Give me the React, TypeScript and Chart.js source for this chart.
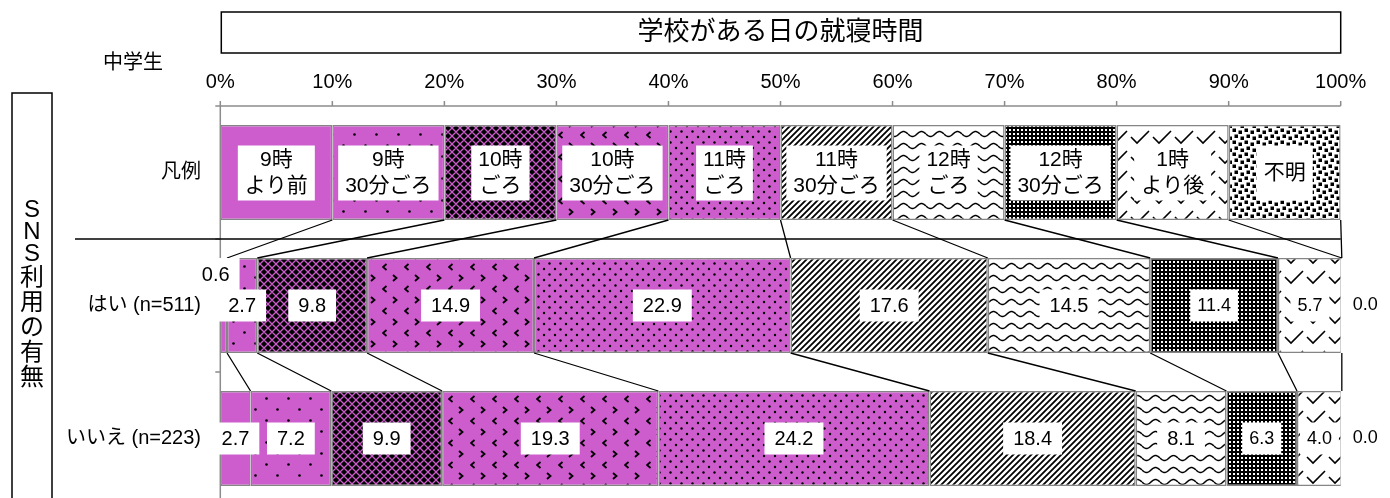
import React, { useEffect, useRef } from 'react';
import { Chart, registerables } from 'chart.js';

Chart.register(...registerables);

// ---- data ----
const rowLabels = ['凡例', 'はい (n=511)', 'いいえ (n=223)'];
const categories = [
  '9時\nより前',
  '9時\n30分ごろ',
  '10時\nごろ',
  '10時\n30分ごろ',
  '11時\nごろ',
  '11時\n30分ごろ',
  '12時\nごろ',
  '12時\n30分ごろ',
  '1時\nより後',
  '不明',
];
const legendValues = [10, 10, 10, 10, 10, 10, 10, 10, 10, 10];
const yesValues = [0.6, 2.7, 9.8, 14.9, 22.9, 17.6, 14.5, 11.4, 5.7, 0.0];
const noValues = [2.7, 7.2, 9.9, 19.3, 24.2, 18.4, 8.1, 6.3, 4.0, 0.0];
const xTicks = [0, 10, 20, 30, 40, 50, 60, 70, 80, 90, 100];
const titleText = '学校がある日の就寝時間';
const groupText = '中学生';
const axisTitleChars = ['S', 'N', 'S', '利', '用', 'の', '有', '無'];

// ---- style ----
const PINK = '#CD5CCD';
const FONT = '"Liberation Sans", "Noto Sans CJK JP", sans-serif';
const CW = 1374;
const CH = 520;

function makePatterns(ctx: CanvasRenderingContext2D): (string | CanvasPattern)[] {
  const mk = (w: number, h: number, bg: string, draw: (g: CanvasRenderingContext2D) => void) => {
    const c = document.createElement('canvas');
    c.width = w;
    c.height = h;
    const g = c.getContext('2d')!;
    g.fillStyle = bg;
    g.fillRect(0, 0, w, h);
    draw(g);
    return ctx.createPattern(c, 'repeat')!;
  };
  const dot = (g: CanvasRenderingContext2D, x: number, y: number, r: number) => {
    g.beginPath();
    g.arc(x, y, r, 0, Math.PI * 2);
    g.fill();
  };
  return [
    PINK,
    mk(22, 22, PINK, (g) => {
      g.fillStyle = '#000';
      dot(g, 5.5, 5.5, 1.3);
      dot(g, 16.5, 16.5, 1.3);
    }),
    mk(8, 8, '#000', (g) => {
      g.strokeStyle = PINK;
      g.lineWidth = 1.3;
      g.beginPath();
      g.moveTo(0, 4);
      g.lineTo(4, 0);
      g.lineTo(8, 4);
      g.lineTo(4, 8);
      g.closePath();
      g.stroke();
    }),
    mk(22, 22, PINK, (g) => {
      g.strokeStyle = '#000';
      g.lineWidth = 1.8;
      g.beginPath();
      g.moveTo(11, 3);
      g.lineTo(14.5, 6);
      g.lineTo(11, 9);
      g.moveTo(4.5, 14);
      g.lineTo(1, 17);
      g.lineTo(4.5, 20);
      g.stroke();
    }),
    mk(11, 11, PINK, (g) => {
      g.fillStyle = '#000';
      dot(g, 2.5, 2.5, 1.2);
      dot(g, 8, 8, 1.2);
    }),
    mk(6, 6, '#fff', (g) => {
      g.strokeStyle = '#000';
      g.lineWidth = 1.8;
      g.beginPath();
      g.moveTo(-1, 7);
      g.lineTo(7, -1);
      g.moveTo(-1, 1);
      g.lineTo(1, -1);
      g.moveTo(5, 7);
      g.lineTo(7, 5);
      g.stroke();
    }),
    mk(18, 12, '#fff', (g) => {
      g.strokeStyle = '#000';
      g.lineWidth = 1.5;
      g.beginPath();
      for (let x = 0; x <= 18; x += 0.5) {
        const y = 6 + 2.5 * Math.sin((x / 18) * 2 * Math.PI);
        if (x === 0) g.moveTo(x, y);
        else g.lineTo(x, y);
      }
      g.stroke();
    }),
    mk(4, 4, '#000', (g) => {
      g.fillStyle = '#fff';
      g.fillRect(1, 1, 2, 2);
    }),
    mk(22, 20, '#fff', (g) => {
      g.strokeStyle = '#000';
      g.lineWidth = 1.6;
      g.beginPath();
      g.moveTo(1, 9);
      g.lineTo(7, 15);
      g.lineTo(19, 3);
      g.stroke();
    }),
    mk(12, 12, '#fff', (g) => {
      g.fillStyle = '#000';
      [[0.5, 0.5], [6.5, 2.5], [2.5, 6.5], [8.5, 8.5]].forEach(([x, y]) => g.fillRect(x, y, 3.5, 3.5));
    }),
  ];
}

function text(ctx: CanvasRenderingContext2D, s: string, x: number, y: number, size: number, align: CanvasTextAlign = 'center') {
  ctx.font = `${size}px ${FONT}`;
  ctx.textAlign = align;
  ctx.textBaseline = 'middle';
  ctx.fillStyle = '#000';
  ctx.fillText(s, x, y);
}

const overlay = {
  id: 'overlay',
  beforeDatasetsDraw(chart: any) {
    const { ctx, chartArea, scales } = chart;
    const x = scales.x;
    const meta0 = chart.getDatasetMeta(0);
    ctx.save();
    ctx.strokeStyle = '#8c8c8c';
    ctx.lineWidth = 1.5;
    // top axis
    ctx.beginPath();
    ctx.moveTo(chartArea.left - 5, chartArea.top);
    ctx.lineTo(chartArea.right, chartArea.top);
    xTicks.forEach((v) => {
      const px = x.getPixelForValue(v);
      ctx.moveTo(px, chartArea.top);
      ctx.lineTo(px, chartArea.top - 5);
    });
    // left axis
    ctx.moveTo(chartArea.left, chartArea.top);
    ctx.lineTo(chartArea.left, chartArea.bottom);
    for (let r = 0; r < rowLabels.length - 1; r++) {
      const yb = (meta0.data[r].y + meta0.data[r + 1].y) / 2;
      ctx.moveTo(chartArea.left - 5, yb);
      ctx.lineTo(chartArea.left, yb);
    }
    ctx.stroke();
    ctx.restore();
  },
  afterDatasetsDraw(chart: any) {
    const { ctx, chartArea, scales } = chart;
    const x = scales.x;
    const metas = chart.data.datasets.map((_: any, i: number) => chart.getDatasetMeta(i));
    ctx.save();
    // connectors
    ctx.strokeStyle = '#000';
    ctx.lineWidth = 1.3;
    ctx.beginPath();
    for (let r = 0; r < rowLabels.length - 1; r++) {
      for (let k = 0; k < metas.length; k++) {
        const a = metas[k].data[r];
        const b = metas[k].data[r + 1];
        ctx.moveTo(a.x, a.y + a.height / 2);
        ctx.lineTo(b.x, b.y - b.height / 2);
      }
    }
    ctx.stroke();
    // separator
    const ySep = (metas[0].data[0].y + metas[0].data[1].y) / 2;
    ctx.lineWidth = 1.5;
    ctx.beginPath();
    ctx.moveTo(67, ySep);
    ctx.lineTo(chartArea.right, ySep);
    ctx.stroke();

    // legend row labels
    metas.forEach((m: any, k: number) => {
      const el = m.data[0];
      const cx = (el.x + el.base) / 2;
      const lines = categories[k].split('\n');
      ctx.font = `21px ${FONT}`;
      const w = Math.max(...lines.map((l) => ctx.measureText(l).width)) + 14;
      ctx.fillStyle = '#fff';
      ctx.fillRect(cx - w / 2, el.y - 27, w, 55);
      if (lines.length === 1) text(ctx, lines[0], cx, el.y + 1, 21);
      else {
        text(ctx, lines[0], cx, el.y - 12, 21);
        text(ctx, lines[1], cx, el.y + 14, 21);
      }
    });

    // value labels
    for (let r = 1; r < rowLabels.length; r++) {
      metas.forEach((m: any, k: number) => {
        const el = m.data[r];
        const v = chart.data.datasets[k].data[r] as number;
        const size = k >= 7 ? 18 : 20;
        const s = v.toFixed(1);
        if (v === 0) {
          text(ctx, s, el.x + 11, el.y, size, 'left');
          return;
        }
        let cx = (el.x + el.base) / 2;
        let cy = el.y;
        if (v < 1) {
          cx -= 8;
          cy -= 31.5;
        }
        ctx.font = `${size}px ${FONT}`;
        const w = ctx.measureText(s).width + (size === 20 ? 20 : 14);
        ctx.fillStyle = '#fff';
        ctx.fillRect(cx - w / 2, cy - 16, w, 32);
        text(ctx, s, cx, cy + 1, size);
      });
    }

    // row labels
    metas[0].data.forEach((el: any, r: number) => {
      text(ctx, rowLabels[r], 193, el.y, 20, 'right');
    });

    // x tick labels
    xTicks.forEach((v) => text(ctx, `${v}%`, x.getPixelForValue(v), 74, 20));

    // title box
    ctx.strokeStyle = '#000';
    ctx.lineWidth = 1.5;
    ctx.strokeRect(chartArea.left + 1, 4, chartArea.right - chartArea.left - 1, 41);
    text(ctx, titleText, (chartArea.left + chartArea.right) / 2, 25, 26);
    text(ctx, groupText, 125, 55, 20);

    // vertical axis title box
    ctx.strokeRect(4, 85, 40, 600);
    let yy = 191.5;
    axisTitleChars.forEach((c) => {
      const h = /[A-Za-z]/.test(c) ? 22 : 25;
      text(ctx, c, 24, yy + h / 2, 24);
      yy += h;
    });
    ctx.restore();
  },
};

export default function App() {
  const ref = useRef<HTMLCanvasElement>(null);
  useEffect(() => {
    const canvas = ref.current!;
    const ctx = canvas.getContext('2d')!;
    const patterns = makePatterns(ctx);
    const chart = new Chart(canvas, {
      type: 'bar',
      data: {
        labels: rowLabels,
        datasets: categories.map((c, i) => ({
          label: c,
          data: [legendValues[i], yesValues[i], noValues[i]],
          backgroundColor: patterns[i] as any,
          borderColor: '#858585',
          borderWidth: 1.5,
          borderSkipped: false,
          barPercentage: 95 / 133,
          categoryPercentage: 1,
        })),
      },
      options: {
        indexAxis: 'y',
        responsive: false,
        animation: false,
        devicePixelRatio: 1,
        layout: { padding: { left: 212.3, right: CW - 1332.7, top: 98, bottom: CH - 497 } },
        scales: {
          x: { type: 'linear', min: 0, max: 100, stacked: true, display: false },
          y: { type: 'category', stacked: true, display: false, offset: true },
        },
        plugins: { legend: { display: false }, tooltip: { enabled: false } },
      },
      plugins: [overlay],
    });
    return () => chart.destroy();
  }, []);
  return (
    <div style={{ position: 'fixed', left: 8, top: 8, width: CW, height: CH }}>
      <canvas ref={ref} width={CW} height={CH} style={{ display: 'block', width: CW, height: CH }} />
    </div>
  );
}
